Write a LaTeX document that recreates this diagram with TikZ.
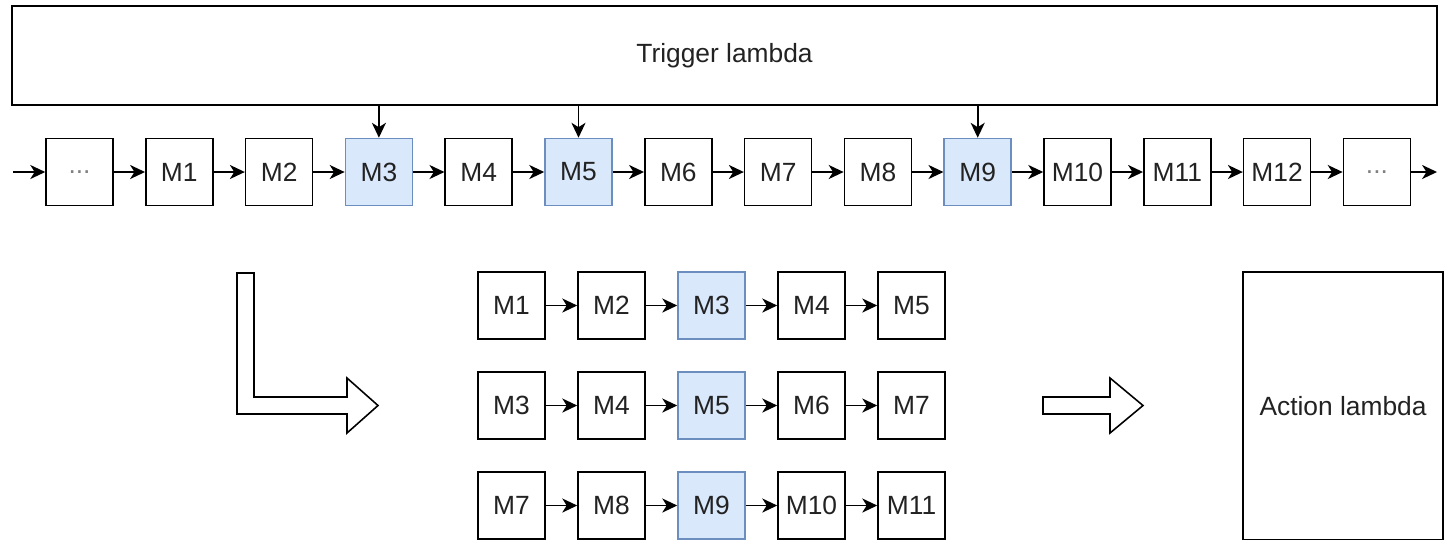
\documentclass[tikz,border=0pt]{standalone}
\usepackage{fontspec}
\setmainfont{Liberation Sans}
\usetikzlibrary{arrows.meta,positioning}

\definecolor{hlfill}{HTML}{DAE8FC}
\definecolor{hldraw}{HTML}{6C8EBF}
\definecolor{ink}{HTML}{222222}

\newcommand\elided{\textcolor{gray}{...}}

\tikzset{
    msg/.style={draw,line width=0.9pt,minimum width=1.34cm,minimum height=1.34cm,inner sep=0pt,text=ink,font=\fontsize{15}{18}\selectfont},
    hit/.style={msg,fill=hlfill,draw=hldraw},
    lambdabox/.style={draw,line width=0.9pt,inner sep=0pt,text=ink,font=\fontsize{15}{18}\selectfont},
    flow/.style={-{Stealth[length=8.5pt,width=8pt,inset=2.5pt]},line width=0.9pt},
    fat/.style={draw,line width=0.9pt,line join=miter}
}

\begin{document}
\begin{tikzpicture}[x=0.02cm,y=-0.02cm]

    \useasboundingbox (0,0) rectangle (1449,539);

    \node[lambdabox,minimum width=28.5cm,minimum height=1.98cm] (trig) at (724.5,55.5) {Trigger lambda};

    %stream
    \foreach \lab/\sty [count=\i from 0] in {\elided/msg,M1/msg,M2/msg,M3/hit,M4/msg,M5/hit,M6/msg,M7/msg,M8/msg,M9/hit,M10/msg,M11/msg,M12/msg,\elided/msg}
        \node[\sty] (t\i) at (79.5+99.8*\i,172) {\lab};

    \coordinate (in) at (13,172);
    \coordinate (out) at (1437,172);
    \draw[flow] (in) -- (t0);
    \foreach \i [remember=\i as \k (initially 0)] in {1,...,13}
        \draw[flow] (t\k) -- (t\i);
    \draw[flow] (t13) -- (out);

    \foreach \i in {3,5,9}
        \draw[flow] (trig.south -| t\i) -- (t\i);

    %windows
    \foreach \a/\b/\c/\d/\e [count=\r from 0] in {M1/M2/M3/M4/M5,M3/M4/M5/M6/M7,M7/M8/M9/M10/M11} {
        \foreach \lab/\sty [count=\j from 0] in {\a/msg,\b/msg,\c/hit,\d/msg,\e/msg}
            \node[\sty] (w\r-\j) at (511.5+100*\j,305.5+100*\r) {\lab};
        \foreach \j [remember=\j as \k (initially 0)] in {1,...,4}
            \draw[flow] (w\r-\k) -- (w\r-\j);
    }

    %block arrows
    \draw[fat] (237,273) -- (254,273) -- (254,397) -- (347,397) -- (347,378) -- (378,405.5)
        -- (347,433) -- (347,414) -- (237,414) -- cycle;
    \draw[fat] (1043,397) -- (1110,397) -- (1110,378) -- (1143,405.5) -- (1110,433)
        -- (1110,414) -- (1043,414) -- cycle;

    \node[lambdabox,minimum width=4cm,minimum height=5.36cm] (act) at (1343,406) {Action lambda};

\end{tikzpicture}
\end{document}
